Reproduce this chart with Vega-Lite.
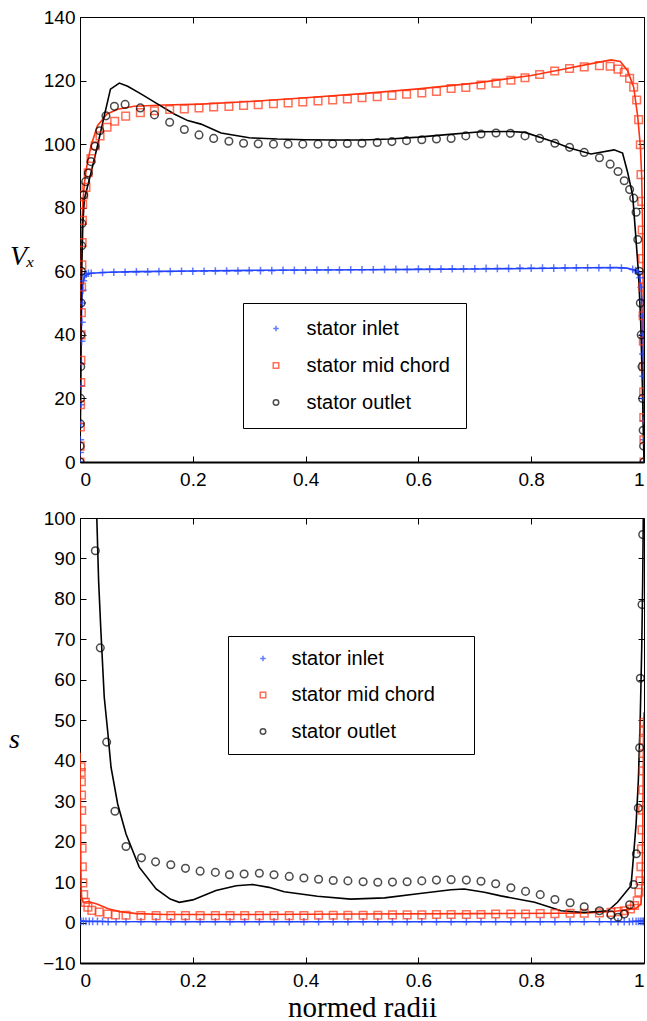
{
"$schema":"https://vega.github.io/schema/vega-lite/v6.json",
"background":"white",
"padding":{"left":8,"top":8,"right":4,"bottom":5},
"config":{"view":{"stroke":null},
"axis":{"grid":false,"domainColor":"black","tickColor":"black","labelColor":"black","labelFont":"Liberation Sans","labelFontSize":19,"tickSize":-6,"domainWidth":1,"tickWidth":1,"titleColor":"black","titleFont":"Liberation Serif","titleFontSize":28,"titleFontWeight":"normal"},
"axisX":{"labelPadding":14},
"axisY":{"labelPadding":11},
"legend":{"labelFont":"Liberation Sans","labelFontSize":20,"labelColor":"black","strokeColor":"black","fillColor":"white","symbolSize":30,"symbolStrokeWidth":1.5,"rowPadding":17}},
"datasets":{
"top_lines":[
{"series":"stator inlet","r":0,"v":0},{"series":"stator inlet","r":0.001,"v":20},{"series":"stator inlet","r":0.002,"v":38},{"series":"stator inlet","r":0.003,"v":50},{"series":"stator inlet","r":0.005,"v":56},{"series":"stator inlet","r":0.008,"v":58.3},{"series":"stator inlet","r":0.012,"v":59},{"series":"stator inlet","r":0.02,"v":59.4},{"series":"stator inlet","r":0.05,"v":59.7},{"series":"stator inlet","r":0.1,"v":59.9},{"series":"stator inlet","r":0.2,"v":60.1},{"series":"stator inlet","r":0.3,"v":60.3},{"series":"stator inlet","r":0.4,"v":60.4},{"series":"stator inlet","r":0.5,"v":60.5},{"series":"stator inlet","r":0.6,"v":60.6},{"series":"stator inlet","r":0.7,"v":60.7},{"series":"stator inlet","r":0.8,"v":60.9},{"series":"stator inlet","r":0.9,"v":61.1},{"series":"stator inlet","r":0.95,"v":61.2},{"series":"stator inlet","r":0.97,"v":61},{"series":"stator inlet","r":0.985,"v":60.3},{"series":"stator inlet","r":0.992,"v":58.5},{"series":"stator inlet","r":0.995,"v":55},{"series":"stator inlet","r":0.997,"v":45},{"series":"stator inlet","r":0.998,"v":35},{"series":"stator inlet","r":0.999,"v":20},{"series":"stator inlet","r":1,"v":0},
{"series":"stator mid chord","r":0,"v":0},{"series":"stator mid chord","r":0.001,"v":30},{"series":"stator mid chord","r":0.002,"v":55},{"series":"stator mid chord","r":0.003,"v":70},{"series":"stator mid chord","r":0.005,"v":82},{"series":"stator mid chord","r":0.008,"v":88},{"series":"stator mid chord","r":0.012,"v":93},{"series":"stator mid chord","r":0.0195,"v":99.5},{"series":"stator mid chord","r":0.031,"v":105.8},{"series":"stator mid chord","r":0.048,"v":109.5},{"series":"stator mid chord","r":0.067,"v":111},{"series":"stator mid chord","r":0.096,"v":111.9},{"series":"stator mid chord","r":0.15,"v":112.3},{"series":"stator mid chord","r":0.215,"v":112.6},{"series":"stator mid chord","r":0.3,"v":113.4},{"series":"stator mid chord","r":0.4,"v":114.6},{"series":"stator mid chord","r":0.5,"v":115.9},{"series":"stator mid chord","r":0.6,"v":117.4},{"series":"stator mid chord","r":0.7,"v":119.2},{"series":"stator mid chord","r":0.8,"v":121.6},{"series":"stator mid chord","r":0.85,"v":123.3},{"series":"stator mid chord","r":0.9,"v":125.1},{"series":"stator mid chord","r":0.9415,"v":126.5},{"series":"stator mid chord","r":0.958,"v":126},{"series":"stator mid chord","r":0.971,"v":123.1},{"series":"stator mid chord","r":0.9817,"v":117.9},{"series":"stator mid chord","r":0.9887,"v":108.9},{"series":"stator mid chord","r":0.9935,"v":99.5},{"series":"stator mid chord","r":0.9959,"v":90},{"series":"stator mid chord","r":0.9975,"v":75},{"series":"stator mid chord","r":0.9985,"v":55},{"series":"stator mid chord","r":0.9993,"v":30},{"series":"stator mid chord","r":1,"v":0},
{"series":"stator outlet","r":0,"v":0},{"series":"stator outlet","r":0.001,"v":25},{"series":"stator outlet","r":0.002,"v":45},{"series":"stator outlet","r":0.003,"v":60},{"series":"stator outlet","r":0.005,"v":75},{"series":"stator outlet","r":0.0077,"v":82.7},{"series":"stator outlet","r":0.0195,"v":91},{"series":"stator outlet","r":0.031,"v":99.5},{"series":"stator outlet","r":0.043,"v":108.9},{"series":"stator outlet","r":0.054,"v":117.3},{"series":"stator outlet","r":0.0697,"v":119.2},{"series":"stator outlet","r":0.0845,"v":118.2},{"series":"stator outlet","r":0.108,"v":115.8},{"series":"stator outlet","r":0.138,"v":112.6},{"series":"stator outlet","r":0.167,"v":109.5},{"series":"stator outlet","r":0.191,"v":107.4},{"series":"stator outlet","r":0.2145,"v":106.3},{"series":"stator outlet","r":0.25,"v":103.5},{"series":"stator outlet","r":0.3,"v":102},{"series":"stator outlet","r":0.35,"v":101.6},{"series":"stator outlet","r":0.4,"v":101.4},{"series":"stator outlet","r":0.45,"v":101.3},{"series":"stator outlet","r":0.5,"v":101.3},{"series":"stator outlet","r":0.55,"v":101.6},{"series":"stator outlet","r":0.6,"v":102.2},{"series":"stator outlet","r":0.65,"v":103},{"series":"stator outlet","r":0.711,"v":103.9},{"series":"stator outlet","r":0.763,"v":104},{"series":"stator outlet","r":0.789,"v":103.7},{"series":"stator outlet","r":0.842,"v":100.6},{"series":"stator outlet","r":0.868,"v":98.8},{"series":"stator outlet","r":0.906,"v":96.9},{"series":"stator outlet","r":0.947,"v":98.2},{"series":"stator outlet","r":0.962,"v":97.2},{"series":"stator outlet","r":0.971,"v":91.1},{"series":"stator outlet","r":0.98,"v":83.8},{"series":"stator outlet","r":0.985,"v":72},{"series":"stator outlet","r":0.99,"v":60},{"series":"stator outlet","r":0.994,"v":45},{"series":"stator outlet","r":0.997,"v":25},{"series":"stator outlet","r":0.999,"v":8},{"series":"stator outlet","r":1,"v":0}
],
"top_points":[
{"series":"stator inlet","r":0,"v":0},{"series":"stator inlet","r":0.0003,"v":3},{"series":"stator inlet","r":0.0006,"v":7},{"series":"stator inlet","r":0.001,"v":12},{"series":"stator inlet","r":0.0015,"v":18},{"series":"stator inlet","r":0.002,"v":24},{"series":"stator inlet","r":0.0025,"v":31},{"series":"stator inlet","r":0.003,"v":38},{"series":"stator inlet","r":0.0035,"v":44},{"series":"stator inlet","r":0.004,"v":50},{"series":"stator inlet","r":0.005,"v":54},{"series":"stator inlet","r":0.006,"v":57},{"series":"stator inlet","r":0.008,"v":58.5},{"series":"stator inlet","r":0.011,"v":59.1},{"series":"stator inlet","r":0.015,"v":59.4},
{"series":"stator inlet","r":0.02,"v":59.4},{"series":"stator inlet","r":0.04,"v":59.6},{"series":"stator inlet","r":0.06,"v":59.7},{"series":"stator inlet","r":0.08,"v":59.7},{"series":"stator inlet","r":0.1,"v":59.8},{"series":"stator inlet","r":0.12,"v":59.8},{"series":"stator inlet","r":0.14,"v":59.9},{"series":"stator inlet","r":0.16,"v":59.9},{"series":"stator inlet","r":0.18,"v":60},{"series":"stator inlet","r":0.2,"v":60},{"series":"stator inlet","r":0.22,"v":60},{"series":"stator inlet","r":0.24,"v":60.1},{"series":"stator inlet","r":0.26,"v":60.1},{"series":"stator inlet","r":0.28,"v":60.1},{"series":"stator inlet","r":0.3,"v":60.2},{"series":"stator inlet","r":0.32,"v":60.2},{"series":"stator inlet","r":0.34,"v":60.2},{"series":"stator inlet","r":0.36,"v":60.3},{"series":"stator inlet","r":0.38,"v":60.3},{"series":"stator inlet","r":0.4,"v":60.3},{"series":"stator inlet","r":0.42,"v":60.4},{"series":"stator inlet","r":0.44,"v":60.4},{"series":"stator inlet","r":0.46,"v":60.4},{"series":"stator inlet","r":0.48,"v":60.5},{"series":"stator inlet","r":0.5,"v":60.5},{"series":"stator inlet","r":0.52,"v":60.5},{"series":"stator inlet","r":0.54,"v":60.6},{"series":"stator inlet","r":0.56,"v":60.6},{"series":"stator inlet","r":0.58,"v":60.6},{"series":"stator inlet","r":0.6,"v":60.7},{"series":"stator inlet","r":0.62,"v":60.7},{"series":"stator inlet","r":0.64,"v":60.7},{"series":"stator inlet","r":0.66,"v":60.8},{"series":"stator inlet","r":0.68,"v":60.8},{"series":"stator inlet","r":0.7,"v":60.8},{"series":"stator inlet","r":0.72,"v":60.9},{"series":"stator inlet","r":0.74,"v":60.9},{"series":"stator inlet","r":0.76,"v":60.9},{"series":"stator inlet","r":0.78,"v":61},{"series":"stator inlet","r":0.8,"v":61},{"series":"stator inlet","r":0.82,"v":61},{"series":"stator inlet","r":0.84,"v":61},{"series":"stator inlet","r":0.86,"v":61.1},{"series":"stator inlet","r":0.88,"v":61.1},{"series":"stator inlet","r":0.9,"v":61.1},{"series":"stator inlet","r":0.92,"v":61.1},{"series":"stator inlet","r":0.94,"v":61.1},{"series":"stator inlet","r":0.96,"v":61},{"series":"stator inlet","r":0.98,"v":60.6},
{"series":"stator inlet","r":0.985,"v":60.2},{"series":"stator inlet","r":0.99,"v":59.5},{"series":"stator inlet","r":0.993,"v":58},{"series":"stator inlet","r":0.995,"v":55},{"series":"stator inlet","r":0.996,"v":51},{"series":"stator inlet","r":0.997,"v":46},{"series":"stator inlet","r":0.9975,"v":40},{"series":"stator inlet","r":0.998,"v":34},{"series":"stator inlet","r":0.9985,"v":27},{"series":"stator inlet","r":0.999,"v":20},{"series":"stator inlet","r":0.9993,"v":13},{"series":"stator inlet","r":0.9996,"v":7},{"series":"stator inlet","r":1,"v":0},
{"series":"stator mid chord","r":0,"v":0},{"series":"stator mid chord","r":0.0003,"v":5},{"series":"stator mid chord","r":0.0006,"v":11},{"series":"stator mid chord","r":0.001,"v":18},{"series":"stator mid chord","r":0.0013,"v":25},{"series":"stator mid chord","r":0.0016,"v":32},{"series":"stator mid chord","r":0.002,"v":40},{"series":"stator mid chord","r":0.0024,"v":47},{"series":"stator mid chord","r":0.0028,"v":55},{"series":"stator mid chord","r":0.0033,"v":62},{"series":"stator mid chord","r":0.0038,"v":69},{"series":"stator mid chord","r":0.0043,"v":76},{"series":"stator mid chord","r":0.0047,"v":81},{"series":"stator mid chord","r":0.0065,"v":84},{"series":"stator mid chord","r":0.0106,"v":86.4},{"series":"stator mid chord","r":0.0145,"v":91},{"series":"stator mid chord","r":0.0195,"v":95.5},{"series":"stator mid chord","r":0.027,"v":99.5},{"series":"stator mid chord","r":0.0355,"v":102.6},{"series":"stator mid chord","r":0.048,"v":105.3},{"series":"stator mid chord","r":0.0615,"v":107.2},{"series":"stator mid chord","r":0.081,"v":108.8},{"series":"stator mid chord","r":0.107,"v":109.9},{"series":"stator mid chord","r":0.132,"v":110.5},{"series":"stator mid chord","r":0.159,"v":110.9},{"series":"stator mid chord","r":0.185,"v":111.1},{"series":"stator mid chord","r":0.211,"v":111.4},{"series":"stator mid chord","r":0.237,"v":111.7},{"series":"stator mid chord","r":0.264,"v":111.9},{"series":"stator mid chord","r":0.29,"v":112.2},{"series":"stator mid chord","r":0.316,"v":112.4},{"series":"stator mid chord","r":0.343,"v":112.7},{"series":"stator mid chord","r":0.369,"v":113},{"series":"stator mid chord","r":0.395,"v":113.3},{"series":"stator mid chord","r":0.422,"v":113.6},{"series":"stator mid chord","r":0.448,"v":113.9},{"series":"stator mid chord","r":0.474,"v":114.2},{"series":"stator mid chord","r":0.5,"v":114.6},{"series":"stator mid chord","r":0.527,"v":114.9},{"series":"stator mid chord","r":0.553,"v":115.3},{"series":"stator mid chord","r":0.579,"v":115.7},{"series":"stator mid chord","r":0.606,"v":116.1},{"series":"stator mid chord","r":0.632,"v":116.6},{"series":"stator mid chord","r":0.658,"v":117.5},{"series":"stator mid chord","r":0.684,"v":117.8},{"series":"stator mid chord","r":0.711,"v":118.6},{"series":"stator mid chord","r":0.7376,"v":119.2},{"series":"stator mid chord","r":0.764,"v":120.1},{"series":"stator mid chord","r":0.789,"v":120.9},{"series":"stator mid chord","r":0.815,"v":121.9},{"series":"stator mid chord","r":0.8416,"v":123},{"series":"stator mid chord","r":0.868,"v":123.8},{"series":"stator mid chord","r":0.894,"v":124.3},{"series":"stator mid chord","r":0.921,"v":124.7},{"series":"stator mid chord","r":0.94,"v":124.5},{"series":"stator mid chord","r":0.954,"v":123.6},{"series":"stator mid chord","r":0.965,"v":122.6},{"series":"stator mid chord","r":0.9745,"v":120.7},{"series":"stator mid chord","r":0.9817,"v":117.9},{"series":"stator mid chord","r":0.987,"v":113.9},{"series":"stator mid chord","r":0.9905,"v":107.7},{"series":"stator mid chord","r":0.9935,"v":99.8},{"series":"stator mid chord","r":0.9947,"v":90.4},{"series":"stator mid chord","r":0.996,"v":82},{"series":"stator mid chord","r":0.9968,"v":73},{"series":"stator mid chord","r":0.9975,"v":64},{"series":"stator mid chord","r":0.998,"v":55},{"series":"stator mid chord","r":0.9985,"v":46},{"series":"stator mid chord","r":0.9988,"v":38},{"series":"stator mid chord","r":0.9991,"v":30},{"series":"stator mid chord","r":0.9994,"v":22},{"series":"stator mid chord","r":0.9996,"v":14},{"series":"stator mid chord","r":0.9998,"v":7},{"series":"stator mid chord","r":1,"v":0},
{"series":"stator outlet","r":0,"v":0},{"series":"stator outlet","r":0.0003,"v":5},{"series":"stator outlet","r":0.0006,"v":12},{"series":"stator outlet","r":0.001,"v":20},{"series":"stator outlet","r":0.0013,"v":30},{"series":"stator outlet","r":0.0017,"v":40},{"series":"stator outlet","r":0.002,"v":50},{"series":"stator outlet","r":0.0025,"v":60},{"series":"stator outlet","r":0.003,"v":68},{"series":"stator outlet","r":0.0035,"v":75},{"series":"stator outlet","r":0.0065,"v":84},{"series":"stator outlet","r":0.01,"v":88.2},{"series":"stator outlet","r":0.0148,"v":90.9},{"series":"stator outlet","r":0.0195,"v":94.5},{"series":"stator outlet","r":0.0266,"v":99.3},{"series":"stator outlet","r":0.035,"v":104.2},{"series":"stator outlet","r":0.046,"v":108.9},{"series":"stator outlet","r":0.061,"v":111.9},{"series":"stator outlet","r":0.08,"v":112.5},{"series":"stator outlet","r":0.107,"v":111.4},{"series":"stator outlet","r":0.132,"v":109.2},{"series":"stator outlet","r":0.159,"v":106.9},{"series":"stator outlet","r":0.185,"v":104.6},{"series":"stator outlet","r":0.211,"v":102.9},{"series":"stator outlet","r":0.237,"v":101.8},{"series":"stator outlet","r":0.264,"v":100.9},{"series":"stator outlet","r":0.29,"v":100.3},{"series":"stator outlet","r":0.316,"v":100.1},{"series":"stator outlet","r":0.343,"v":100},{"series":"stator outlet","r":0.369,"v":100},{"series":"stator outlet","r":0.395,"v":100},{"series":"stator outlet","r":0.422,"v":100},{"series":"stator outlet","r":0.448,"v":100.1},{"series":"stator outlet","r":0.474,"v":100.2},{"series":"stator outlet","r":0.5,"v":100.3},{"series":"stator outlet","r":0.527,"v":100.5},{"series":"stator outlet","r":0.553,"v":100.8},{"series":"stator outlet","r":0.579,"v":101.1},{"series":"stator outlet","r":0.606,"v":101.4},{"series":"stator outlet","r":0.632,"v":101.6},{"series":"stator outlet","r":0.658,"v":101.8},{"series":"stator outlet","r":0.684,"v":102.6},{"series":"stator outlet","r":0.711,"v":103.2},{"series":"stator outlet","r":0.7376,"v":103.5},{"series":"stator outlet","r":0.763,"v":103.4},{"series":"stator outlet","r":0.789,"v":102.6},{"series":"stator outlet","r":0.815,"v":101.8},{"series":"stator outlet","r":0.842,"v":100.3},{"series":"stator outlet","r":0.868,"v":99},{"series":"stator outlet","r":0.894,"v":97.4},{"series":"stator outlet","r":0.921,"v":95.7},{"series":"stator outlet","r":0.94,"v":93.7},{"series":"stator outlet","r":0.954,"v":91.4},{"series":"stator outlet","r":0.965,"v":88.5},{"series":"stator outlet","r":0.9745,"v":85.7},{"series":"stator outlet","r":0.9817,"v":83},{"series":"stator outlet","r":0.986,"v":78.6},{"series":"stator outlet","r":0.989,"v":70},{"series":"stator outlet","r":0.9915,"v":60},{"series":"stator outlet","r":0.9935,"v":50},{"series":"stator outlet","r":0.995,"v":40},{"series":"stator outlet","r":0.9965,"v":30},{"series":"stator outlet","r":0.9975,"v":20},{"series":"stator outlet","r":0.9985,"v":10},{"series":"stator outlet","r":0.9993,"v":5},{"series":"stator outlet","r":1,"v":0}
],
"bot_lines":[
{"series":"stator inlet","r":0,"v":0.4},{"series":"stator inlet","r":0.01,"v":0.25},{"series":"stator inlet","r":0.2,"v":0.2},{"series":"stator inlet","r":0.5,"v":0.2},{"series":"stator inlet","r":0.8,"v":0.2},{"series":"stator inlet","r":0.99,"v":0.25},{"series":"stator inlet","r":1,"v":0.4},
{"series":"stator mid chord","r":0,"v":42},{"series":"stator mid chord","r":0.0005,"v":32},{"series":"stator mid chord","r":0.001,"v":22},{"series":"stator mid chord","r":0.0015,"v":14},{"series":"stator mid chord","r":0.002,"v":9},{"series":"stator mid chord","r":0.003,"v":6},{"series":"stator mid chord","r":0.006,"v":5},{"series":"stator mid chord","r":0.015,"v":5.2},{"series":"stator mid chord","r":0.03,"v":4.6},{"series":"stator mid chord","r":0.05,"v":3.4},{"series":"stator mid chord","r":0.07,"v":2.7},{"series":"stator mid chord","r":0.1,"v":2.2},{"series":"stator mid chord","r":0.15,"v":2},{"series":"stator mid chord","r":0.3,"v":2},{"series":"stator mid chord","r":0.5,"v":2.1},{"series":"stator mid chord","r":0.7,"v":2.2},{"series":"stator mid chord","r":0.85,"v":2.3},{"series":"stator mid chord","r":0.9,"v":2.4},{"series":"stator mid chord","r":0.95,"v":2.8},{"series":"stator mid chord","r":0.97,"v":3.2},{"series":"stator mid chord","r":0.985,"v":3.5},{"series":"stator mid chord","r":0.9947,"v":4.5},{"series":"stator mid chord","r":0.9969,"v":10.3},{"series":"stator mid chord","r":0.998,"v":26.8},{"series":"stator mid chord","r":0.9994,"v":49.9},{"series":"stator mid chord","r":1,"v":52},
{"series":"stator outlet","r":0.02,"v":200},{"series":"stator outlet","r":0.0296,"v":101},{"series":"stator outlet","r":0.033,"v":84.5},{"series":"stator outlet","r":0.037,"v":72.2},{"series":"stator outlet","r":0.043,"v":55.7},{"series":"stator outlet","r":0.049,"v":47.4},{"series":"stator outlet","r":0.055,"v":38.4},{"series":"stator outlet","r":0.0668,"v":29.3},{"series":"stator outlet","r":0.0816,"v":21.9},{"series":"stator outlet","r":0.105,"v":13.7},{"series":"stator outlet","r":0.135,"v":8.3},{"series":"stator outlet","r":0.16,"v":5.8},{"series":"stator outlet","r":0.176,"v":5},{"series":"stator outlet","r":0.2,"v":5.6},{"series":"stator outlet","r":0.241,"v":7.9},{"series":"stator outlet","r":0.277,"v":9.1},{"series":"stator outlet","r":0.306,"v":9.4},{"series":"stator outlet","r":0.335,"v":8.7},{"series":"stator outlet","r":0.362,"v":7.6},{"series":"stator outlet","r":0.421,"v":6.5},{"series":"stator outlet","r":0.48,"v":5.8},{"series":"stator outlet","r":0.54,"v":6.1},{"series":"stator outlet","r":0.599,"v":7.1},{"series":"stator outlet","r":0.658,"v":8.1},{"series":"stator outlet","r":0.681,"v":8.3},{"series":"stator outlet","r":0.717,"v":7.5},{"series":"stator outlet","r":0.746,"v":6.6},{"series":"stator outlet","r":0.806,"v":5},{"series":"stator outlet","r":0.853,"v":2.9},{"series":"stator outlet","r":0.894,"v":2.5},{"series":"stator outlet","r":0.936,"v":2.9},{"series":"stator outlet","r":0.953,"v":5},{"series":"stator outlet","r":0.977,"v":9.1},{"series":"stator outlet","r":0.98,"v":14},{"series":"stator outlet","r":0.986,"v":24.4},{"series":"stator outlet","r":0.99,"v":35.1},{"series":"stator outlet","r":0.9935,"v":51.6},{"series":"stator outlet","r":0.996,"v":68},{"series":"stator outlet","r":0.9977,"v":84.5},{"series":"stator outlet","r":0.9988,"v":101},{"series":"stator outlet","r":0.9995,"v":150}
],
"bot_points":[
{"series":"stator inlet","r":0.0018,"v":0.3},{"series":"stator inlet","r":0.006,"v":0.3},{"series":"stator inlet","r":0.0106,"v":0.3},{"series":"stator inlet","r":0.0165,"v":0.3},{"series":"stator inlet","r":0.0225,"v":0.3},{"series":"stator inlet","r":0.031,"v":0.3},{"series":"stator inlet","r":0.04,"v":0.3},{"series":"stator inlet","r":0.05,"v":0.2},{"series":"stator inlet","r":0.064,"v":0.2},{"series":"stator inlet","r":0.0816,"v":0.2},{"series":"stator inlet","r":0.108,"v":0.2},{"series":"stator inlet","r":0.135,"v":0.2},{"series":"stator inlet","r":0.161,"v":0.2},{"series":"stator inlet","r":0.187,"v":0.2},{"series":"stator inlet","r":0.213,"v":0.2},{"series":"stator inlet","r":0.24,"v":0.2},{"series":"stator inlet","r":0.266,"v":0.2},{"series":"stator inlet","r":0.292,"v":0.2},{"series":"stator inlet","r":0.318,"v":0.2},{"series":"stator inlet","r":0.344,"v":0.2},{"series":"stator inlet","r":0.371,"v":0.2},{"series":"stator inlet","r":0.397,"v":0.2},{"series":"stator inlet","r":0.423,"v":0.2},{"series":"stator inlet","r":0.449,"v":0.2},{"series":"stator inlet","r":0.475,"v":0.2},{"series":"stator inlet","r":0.502,"v":0.2},{"series":"stator inlet","r":0.528,"v":0.2},{"series":"stator inlet","r":0.554,"v":0.2},{"series":"stator inlet","r":0.58,"v":0.2},{"series":"stator inlet","r":0.606,"v":0.2},{"series":"stator inlet","r":0.632,"v":0.2},{"series":"stator inlet","r":0.658,"v":0.2},{"series":"stator inlet","r":0.685,"v":0.2},{"series":"stator inlet","r":0.711,"v":0.2},{"series":"stator inlet","r":0.737,"v":0.2},{"series":"stator inlet","r":0.764,"v":0.2},{"series":"stator inlet","r":0.79,"v":0.2},{"series":"stator inlet","r":0.816,"v":0.2},{"series":"stator inlet","r":0.842,"v":0.2},{"series":"stator inlet","r":0.869,"v":0.2},{"series":"stator inlet","r":0.894,"v":0.2},{"series":"stator inlet","r":0.921,"v":0.2},{"series":"stator inlet","r":0.9415,"v":0.2},{"series":"stator inlet","r":0.954,"v":0.2},{"series":"stator inlet","r":0.965,"v":0.2},{"series":"stator inlet","r":0.974,"v":0.2},{"series":"stator inlet","r":0.98,"v":0.3},{"series":"stator inlet","r":0.986,"v":0.3},{"series":"stator inlet","r":0.99,"v":0.3},{"series":"stator inlet","r":0.9935,"v":0.3},{"series":"stator inlet","r":0.9965,"v":0.3},{"series":"stator inlet","r":0.9988,"v":0.3},{"series":"stator inlet","r":1,"v":0.3},
{"series":"stator mid chord","r":0.0018,"v":38.5},{"series":"stator mid chord","r":0.0021,"v":37.1},{"series":"stator mid chord","r":0.0024,"v":34.8},{"series":"stator mid chord","r":0.0027,"v":31.5},{"series":"stator mid chord","r":0.003,"v":27.7},{"series":"stator mid chord","r":0.0033,"v":23.1},{"series":"stator mid chord","r":0.0037,"v":18.4},{"series":"stator mid chord","r":0.0042,"v":13.8},{"series":"stator mid chord","r":0.005,"v":9.8},{"series":"stator mid chord","r":0.0065,"v":6.9},{"series":"stator mid chord","r":0.0095,"v":5},{"series":"stator mid chord","r":0.014,"v":3.8},{"series":"stator mid chord","r":0.021,"v":3},{"series":"stator mid chord","r":0.034,"v":2.6},{"series":"stator mid chord","r":0.049,"v":2.1},{"series":"stator mid chord","r":0.063,"v":1.9},{"series":"stator mid chord","r":0.0816,"v":1.8},{"series":"stator mid chord","r":0.108,"v":1.7},{"series":"stator mid chord","r":0.135,"v":1.7},{"series":"stator mid chord","r":0.161,"v":1.7},{"series":"stator mid chord","r":0.187,"v":1.7},{"series":"stator mid chord","r":0.213,"v":1.7},{"series":"stator mid chord","r":0.24,"v":1.7},{"series":"stator mid chord","r":0.266,"v":1.7},{"series":"stator mid chord","r":0.292,"v":1.7},{"series":"stator mid chord","r":0.318,"v":1.7},{"series":"stator mid chord","r":0.344,"v":1.7},{"series":"stator mid chord","r":0.371,"v":1.7},{"series":"stator mid chord","r":0.397,"v":1.7},{"series":"stator mid chord","r":0.423,"v":1.8},{"series":"stator mid chord","r":0.449,"v":1.8},{"series":"stator mid chord","r":0.475,"v":1.8},{"series":"stator mid chord","r":0.502,"v":1.8},{"series":"stator mid chord","r":0.528,"v":1.8},{"series":"stator mid chord","r":0.554,"v":1.9},{"series":"stator mid chord","r":0.58,"v":1.9},{"series":"stator mid chord","r":0.606,"v":1.9},{"series":"stator mid chord","r":0.632,"v":2},{"series":"stator mid chord","r":0.658,"v":2},{"series":"stator mid chord","r":0.685,"v":2},{"series":"stator mid chord","r":0.711,"v":2},{"series":"stator mid chord","r":0.737,"v":2.1},{"series":"stator mid chord","r":0.764,"v":2.1},{"series":"stator mid chord","r":0.79,"v":2.1},{"series":"stator mid chord","r":0.816,"v":2.2},{"series":"stator mid chord","r":0.842,"v":2.2},{"series":"stator mid chord","r":0.869,"v":2.3},{"series":"stator mid chord","r":0.894,"v":2.3},{"series":"stator mid chord","r":0.921,"v":2.4},{"series":"stator mid chord","r":0.9415,"v":2.5},{"series":"stator mid chord","r":0.954,"v":2.7},{"series":"stator mid chord","r":0.965,"v":2.9},{"series":"stator mid chord","r":0.976,"v":3.35},{"series":"stator mid chord","r":0.983,"v":4.2},{"series":"stator mid chord","r":0.988,"v":5.4},{"series":"stator mid chord","r":0.991,"v":7.5},{"series":"stator mid chord","r":0.993,"v":10.3},{"series":"stator mid chord","r":0.9945,"v":13.8},{"series":"stator mid chord","r":0.9955,"v":18.2},{"series":"stator mid chord","r":0.9965,"v":22.9},{"series":"stator mid chord","r":0.9975,"v":27.8},{"series":"stator mid chord","r":0.998,"v":32.8},{"series":"stator mid chord","r":0.9985,"v":37.5},{"series":"stator mid chord","r":0.999,"v":41.8},{"series":"stator mid chord","r":0.9994,"v":45.1},{"series":"stator mid chord","r":0.9996,"v":47.4},{"series":"stator mid chord","r":0.9998,"v":49.5},
{"series":"stator outlet","r":0.0272,"v":91.9},{"series":"stator outlet","r":0.036,"v":67.9},{"series":"stator outlet","r":0.0473,"v":44.6},{"series":"stator outlet","r":0.062,"v":27.5},{"series":"stator outlet","r":0.0816,"v":18.8},{"series":"stator outlet","r":0.109,"v":16},{"series":"stator outlet","r":0.134,"v":15},{"series":"stator outlet","r":0.161,"v":14.3},{"series":"stator outlet","r":0.187,"v":13.4},{"series":"stator outlet","r":0.213,"v":12.7},{"series":"stator outlet","r":0.24,"v":12.4},{"series":"stator outlet","r":0.265,"v":11.8},{"series":"stator outlet","r":0.291,"v":12},{"series":"stator outlet","r":0.318,"v":12.2},{"series":"stator outlet","r":0.344,"v":11.8},{"series":"stator outlet","r":0.371,"v":11.4},{"series":"stator outlet","r":0.397,"v":11},{"series":"stator outlet","r":0.423,"v":10.7},{"series":"stator outlet","r":0.449,"v":10.4},{"series":"stator outlet","r":0.475,"v":10.3},{"series":"stator outlet","r":0.502,"v":10.1},{"series":"stator outlet","r":0.528,"v":9.95},{"series":"stator outlet","r":0.554,"v":10},{"series":"stator outlet","r":0.58,"v":10.1},{"series":"stator outlet","r":0.606,"v":10.3},{"series":"stator outlet","r":0.632,"v":10.5},{"series":"stator outlet","r":0.658,"v":10.6},{"series":"stator outlet","r":0.685,"v":10.5},{"series":"stator outlet","r":0.711,"v":10.2},{"series":"stator outlet","r":0.737,"v":9.6},{"series":"stator outlet","r":0.764,"v":8.6},{"series":"stator outlet","r":0.79,"v":7.7},{"series":"stator outlet","r":0.816,"v":6.9},{"series":"stator outlet","r":0.842,"v":5.7},{"series":"stator outlet","r":0.869,"v":4.9},{"series":"stator outlet","r":0.894,"v":3.9},{"series":"stator outlet","r":0.921,"v":2.9},{"series":"stator outlet","r":0.9415,"v":1.9},{"series":"stator outlet","r":0.954,"v":1.3},{"series":"stator outlet","r":0.965,"v":2.1},{"series":"stator outlet","r":0.9745,"v":4.4},{"series":"stator outlet","r":0.9817,"v":9.4},{"series":"stator outlet","r":0.9865,"v":17},{"series":"stator outlet","r":0.9899,"v":28.3},{"series":"stator outlet","r":0.9923,"v":43.2},{"series":"stator outlet","r":0.9935,"v":60.4},{"series":"stator outlet","r":0.9965,"v":78.6},{"series":"stator outlet","r":0.9977,"v":95.9}
]
},
"spacing":56,
"bounds":"flush",
"resolve":{"scale":{"color":"independent","shape":"independent","stroke":"independent"},"legend":{"color":"independent","shape":"independent"}},
"vconcat":[
{"width":564,"height":445,
"resolve":{"axis":{"x":"independent","y":"independent"}},
"layer":[
{"data":{"name":"top_lines"},"mark":{"type":"line","clip":true,"strokeWidth":1.6},
"encoding":{
"x":{"field":"r","type":"quantitative","scale":{"domain":[0,1],"nice":false},"axis":{"orient":"bottom","values":[0,0.2,0.4,0.6,0.8,1],"format":"~g","title":null,"domainWidth":2}},
"y":{"field":"v","type":"quantitative","scale":{"domain":[0,140],"nice":false},"axis":{"orient":"left","values":[0,20,40,60,80,100,120,140],"title":"Vₓ","titleAngle":0,"titleX":-58,"titleY":239,"titleAlign":"center","titleBaseline":"middle","titleFontStyle":"italic"}},
"stroke":{"field":"series","type":"nominal","scale":{"domain":["stator outlet","stator mid chord","stator inlet"],"range":["#000000","#ff3311","#2244ff"]},"legend":null}}},
{"data":{"name":"top_points"},"mark":{"type":"point","filled":false,"strokeWidth":1.5,"size":58,"clip":true},
"encoding":{
"x":{"field":"r","type":"quantitative","scale":{"domain":[0,1],"nice":false},"axis":{"orient":"top","values":[0,0.2,0.4,0.6,0.8,1],"labels":false,"title":null}},
"y":{"field":"v","type":"quantitative","scale":{"domain":[0,140],"nice":false},"axis":{"orient":"right","values":[0,20,40,60,80,100,120,140],"labels":false,"title":null}},
"color":{"field":"series","type":"nominal","scale":{"domain":["stator inlet","stator mid chord","stator outlet"],"range":["#2244ff","#ff3311","#000000"]},"legend":{"title":null,"orient":"none","legendX":163,"legendY":286,"padding":15.5,"symbolOffset":7.5,"labelOffset":20.5}},
"shape":{"field":"series","type":"nominal","scale":{"domain":["stator inlet","stator mid chord","stator outlet"],"range":["M-1,0L1,0M0,-1L0,1","square","circle"]},"legend":{"title":null,"orient":"none","legendX":163,"legendY":286,"padding":15.5,"symbolOffset":7.5,"labelOffset":20.5}}}}
]},
{"width":564,"height":445,
"resolve":{"axis":{"x":"independent","y":"independent"}},
"layer":[
{"data":{"name":"bot_lines"},"mark":{"type":"line","clip":true,"strokeWidth":1.6},
"encoding":{
"x":{"field":"r","type":"quantitative","scale":{"domain":[0,1],"nice":false},"axis":{"orient":"bottom","values":[0,0.2,0.4,0.6,0.8,1],"format":"~g","title":"normed radii","titlePadding":3,"titleFontSize":29,"domainWidth":2}},
"y":{"field":"v","type":"quantitative","scale":{"domain":[-10,100],"nice":false},"axis":{"orient":"left","values":[-10,0,10,20,30,40,50,60,70,80,90,100],"title":"s","titleAngle":0,"titleX":-66,"titleY":221,"titleAlign":"center","titleBaseline":"middle","titleFontStyle":"italic"}},
"stroke":{"field":"series","type":"nominal","scale":{"domain":["stator outlet","stator mid chord","stator inlet"],"range":["#000000","#ff3311","#2244ff"]},"legend":null}}},
{"data":{"name":"bot_points"},"mark":{"type":"point","filled":false,"strokeWidth":1.5,"size":58,"clip":true},
"encoding":{
"x":{"field":"r","type":"quantitative","scale":{"domain":[0,1],"nice":false},"axis":{"orient":"top","values":[0,0.2,0.4,0.6,0.8,1],"labels":false,"title":null}},
"y":{"field":"v","type":"quantitative","scale":{"domain":[-10,100],"nice":false},"axis":{"orient":"right","values":[-10,0,10,20,30,40,50,60,70,80,90,100],"labels":false,"title":null}},
"color":{"field":"series","type":"nominal","scale":{"domain":["stator inlet","stator mid chord","stator outlet"],"range":["#2244ff","#ff3311","#000000"]},"legend":{"title":"\u00a0","titleOrient":"right","titlePadding":27,"orient":"none","legendX":148,"legendY":118,"padding":12.5,"rowPadding":16.5,"symbolOffset":12.5,"labelOffset":18.5}},
"shape":{"field":"series","type":"nominal","scale":{"domain":["stator inlet","stator mid chord","stator outlet"],"range":["M-1,0L1,0M0,-1L0,1","square","circle"]},"legend":{"title":"\u00a0","titleOrient":"right","titlePadding":27,"orient":"none","legendX":148,"legendY":118,"padding":12.5,"rowPadding":16.5,"symbolOffset":12.5,"labelOffset":18.5}}}}
]}
]
}
